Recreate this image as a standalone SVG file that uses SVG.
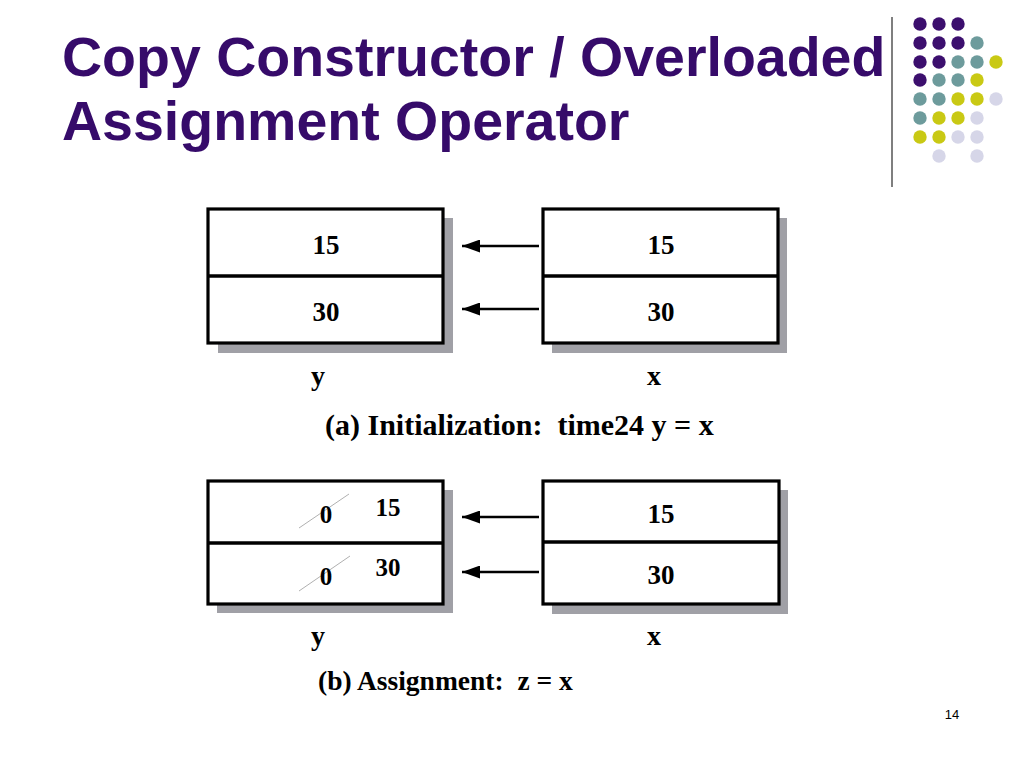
<svg xmlns="http://www.w3.org/2000/svg" width="1024" height="768" viewBox="0 0 1024 768">
<style>
.title{font-family:"Liberation Sans",Arial,sans-serif;font-weight:bold;font-size:55.5px;fill:#360b6a}
.num{font-family:"Liberation Serif","Times New Roman",serif;font-weight:bold;font-size:27px;fill:#000;text-anchor:middle}
.snum{font-family:"Liberation Serif","Times New Roman",serif;font-weight:bold;font-size:25px;fill:#000;text-anchor:middle}
.lbl{font-family:"Liberation Serif","Times New Roman",serif;font-weight:bold;font-size:28px;fill:#000;text-anchor:middle}
.cap{font-family:"Liberation Serif","Times New Roman",serif;font-weight:bold;fill:#000}
.box{fill:#fff;stroke:#000;stroke-width:3.2}
.shadow{fill:#a0a0a6}
.div{stroke:#000;stroke-width:3.5}
.arrow{stroke:#000;stroke-width:2.4;fill:none;marker-end:url(#ah)}
.strike{stroke:#b0b0b0;stroke-width:1}
.p{fill:#3c0f6e}.t{fill:#6d9b9c}.y{fill:#c9c914}.l{fill:#d6d6e8}
</style>
<defs>
<marker id="ah" markerUnits="userSpaceOnUse" markerWidth="19" markerHeight="13" refX="18" refY="6.5" orient="auto">
<path d="M0,0 L18,6.5 L0,13 z" fill="#000"/>
</marker>
</defs>
<rect width="1024" height="768" fill="#fff"/>
<g id="title">
<text class="title" x="62" y="76">Copy Constructor / Overloaded</text>
<text class="title" x="62" y="140">Assignment Operator</text>
</g>
<g id="decor">
<line x1="892" y1="17" x2="892" y2="187" stroke="#555" stroke-width="1.5"/>
<circle class="p" cx="920" cy="24" r="6.7"/><circle class="p" cx="939" cy="24" r="6.7"/><circle class="p" cx="958" cy="24" r="6.7"/>
<circle class="p" cx="920" cy="43" r="6.7"/><circle class="p" cx="939" cy="43" r="6.7"/><circle class="p" cx="958" cy="43" r="6.7"/><circle class="t" cx="977" cy="43" r="6.7"/>
<circle class="p" cx="920" cy="62" r="6.7"/><circle class="p" cx="939" cy="62" r="6.7"/><circle class="t" cx="958" cy="62" r="6.7"/><circle class="t" cx="977" cy="62" r="6.7"/><circle class="y" cx="996" cy="62" r="6.7"/>
<circle class="p" cx="920" cy="80" r="6.7"/><circle class="t" cx="939" cy="80" r="6.7"/><circle class="t" cx="958" cy="80" r="6.7"/><circle class="y" cx="977" cy="80" r="6.7"/>
<circle class="t" cx="920" cy="99" r="6.7"/><circle class="t" cx="939" cy="99" r="6.7"/><circle class="y" cx="958" cy="99" r="6.7"/><circle class="y" cx="977" cy="99" r="6.7"/><circle class="l" cx="996" cy="99" r="6.7"/>
<circle class="t" cx="920" cy="118" r="6.7"/><circle class="y" cx="939" cy="118" r="6.7"/><circle class="y" cx="958" cy="118" r="6.7"/><circle class="l" cx="977" cy="118" r="6.7"/>
<circle class="y" cx="920" cy="137" r="6.7"/><circle class="y" cx="939" cy="137" r="6.7"/><circle class="l" cx="958" cy="137" r="6.7"/><circle class="l" cx="977" cy="137" r="6.7"/>
<circle class="l" cx="939" cy="156" r="6.7"/><circle class="l" cx="977" cy="156" r="6.7"/>
</g>
<g id="a_y">
<rect class="shadow" x="218" y="218" width="235" height="135"/>
<rect class="box" x="208" y="209" width="235" height="134"/>
<line class="div" x1="208" y1="276" x2="443" y2="276"/>
<text class="num" x="326" y="254">15</text>
<text class="num" x="326" y="321">30</text>
<text class="lbl" x="318" y="385">y</text>
</g>
<g id="a_x">
<rect class="shadow" x="552" y="218" width="235" height="135"/>
<rect class="box" x="543" y="209" width="235" height="134"/>
<line class="div" x1="543" y1="276" x2="778" y2="276"/>
<text class="num" x="661" y="254">15</text>
<text class="num" x="661" y="321">30</text>
<text class="lbl" x="654" y="385">x</text>
</g>
<g id="b_y">
<rect class="shadow" x="217" y="490" width="236" height="123"/>
<rect class="box" x="208" y="481" width="235" height="123"/>
<line class="div" x1="208" y1="543" x2="443" y2="543"/>
<line class="strike" x1="299" y1="528" x2="349" y2="494"/>
<line class="strike" x1="299" y1="591" x2="350" y2="556"/>
<text class="snum" x="326" y="523">0</text>
<text class="snum" x="326" y="585">0</text>
<text class="snum" x="388" y="516">15</text>
<text class="snum" x="388" y="576">30</text>
<text class="lbl" x="318" y="645">y</text>
</g>
<g id="b_x">
<rect class="shadow" x="552" y="490" width="236" height="124"/>
<rect class="box" x="543" y="481" width="236" height="123"/>
<line class="div" x1="543" y1="542" x2="779" y2="542"/>
<text class="num" x="661" y="523">15</text>
<text class="num" x="661" y="584">30</text>
<text class="lbl" x="654" y="645">x</text>
</g>
<g id="connectors">
<line class="arrow" x1="539" y1="246" x2="462" y2="246"/>
<line class="arrow" x1="539" y1="309" x2="462" y2="309"/>
<line class="arrow" x1="539" y1="517" x2="462" y2="517"/>
<line class="arrow" x1="539" y1="572" x2="462" y2="572"/>
</g>
<g id="captions">
<text class="cap" x="325" y="435" font-size="30" xml:space="preserve">(a) Initialization:  time24 y = x</text>
<text class="cap" x="318" y="690" font-size="27.5" xml:space="preserve">(b) Assignment:  z = x</text>
</g>
<text x="952" y="719" font-family="Liberation Sans,Arial,sans-serif" font-size="13" text-anchor="middle" fill="#000">14</text>
</svg>
